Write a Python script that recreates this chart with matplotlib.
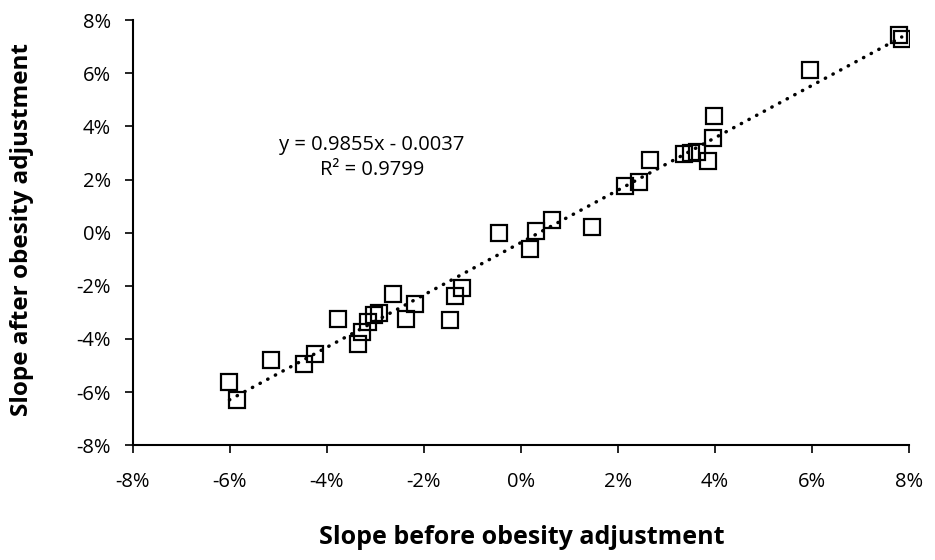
import numpy as np
import matplotlib.pyplot as plt
from matplotlib.ticker import FuncFormatter

plt.rcParams['font.family'] = ['Open Sans', 'DejaVu Sans']

# slopes in percent
before = [-6.01, -5.86, -5.15, -4.47, -4.25, -3.78, -3.35, -3.27, -3.15, -3.03,
          -2.93, -2.63, -2.37, -2.19, -1.47, -1.37, -1.22, -0.45, 0.19, 0.30,
          0.64, 1.47, 2.14, 2.44, 2.65, 3.37, 3.50, 3.62, 3.85, 3.96,
          3.98, 5.95, 7.80, 7.85]
after = [-5.61, -6.30, -4.79, -4.94, -4.57, -3.26, -4.19, -3.72, -3.36, -3.10,
         -3.03, -2.30, -3.26, -2.68, -3.28, -2.40, -2.09, 0.00, -0.62, 0.08,
         0.49, 0.20, 1.77, 1.90, 2.73, 2.98, 3.00, 3.02, 2.69, 3.57,
         4.38, 6.12, 7.45, 7.30]
slope, intercept = 0.9855, -0.0037
ticks = [-8, -6, -4, -2, 0, 2, 4, 6, 8]

x = np.array(before)
y = np.array(after)

fig = plt.figure(figsize=(9.35, 5.6), dpi=100)
ax = fig.add_axes([0.1422, 0.205, 0.83, 0.759])

ax.plot(x, y, 's', ms=12, mfc='none', mec='black', mew=1.6, zorder=3)

xl = np.array([x.min(), x.max()])
ax.plot(xl, slope * xl + intercept * 100, color='black', lw=2.5,
        linestyle=(0, (0.1, 2.4)), dash_capstyle='round', zorder=2)

ax.text(-3.07, 3.3, 'y = 0.9855x - 0.0037', ha='center', va='center', fontsize=14.5)
ax.text(-3.07, 2.35, 'R² = 0.9799', ha='center', va='center', fontsize=14.5)

ax.set_xlim(-8, 8)
ax.set_ylim(-8, 8)
ax.set_xticks(ticks)
ax.set_yticks(ticks)
pct = FuncFormatter(lambda v, p: f'{v:.0f}%')
ax.xaxis.set_major_formatter(pct)
ax.yaxis.set_major_formatter(pct)
ax.tick_params(direction='out', length=6, width=1.2, labelsize=14.5)
ax.tick_params(axis='y', pad=10)
ax.tick_params(axis='x', pad=13)

for s in ['top', 'right']:
    ax.spines[s].set_visible(False)
for s in ['left', 'bottom']:
    ax.spines[s].set_linewidth(1.5)

fig.text(0.558, 0.018, 'Slope before obesity adjustment', ha='center', va='bottom',
         fontsize=18, fontweight='bold')
fig.text(0.024, 0.59, 'Slope after obesity adjustment', ha='center', va='center',
         rotation=90, fontsize=17.5, fontweight='bold')

fig.savefig('out.png', dpi=100)
